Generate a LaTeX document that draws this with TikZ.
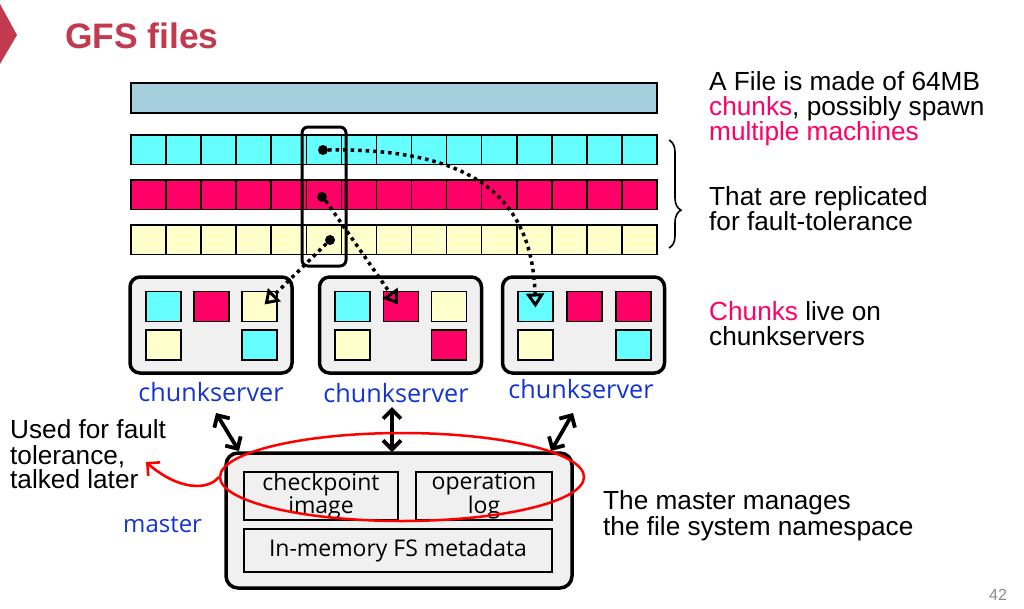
\documentclass[tikz,border=0pt]{standalone}
\usepackage{fontspec}
\setmainfont{Liberation Sans}
\newfontfamily\labf{Open Sans}
\usetikzlibrary{arrows.meta,decorations.pathreplacing,shapes.geometric}
\definecolor{cy}{HTML}{66FFFF}
\definecolor{mg}{HTML}{FF0066}
\definecolor{yl}{HTML}{FFFFCC}
\definecolor{barc}{HTML}{A5CFDC}
\definecolor{titlec}{HTML}{C23A4D}
\definecolor{csblue}{HTML}{1434D2}
\definecolor{boxg}{HTML}{F0F0F0}
\begin{document}
\begin{tikzpicture}[x=1pt,y=-1pt,
  cell/.style={draw=black,line width=1.6pt},
  dot/.style={circle,fill=black,inner sep=0pt,minimum size=10pt},
  csbox/.style={draw=black,fill=boxg,line width=3.5pt,rounded corners=10pt,minimum width=162pt,minimum height=96pt,inner sep=0pt},
  scell/.style={draw=black,line width=1.8pt,minimum width=35pt,minimum height=30pt,inner sep=0pt},
  mbox/.style={draw=black,fill=boxg,line width=3.5pt,rounded corners=12pt,minimum width=346pt,minimum height=135pt,inner sep=0pt},
  ibox/.style={draw=black,fill=boxg,line width=1.8pt,inner sep=0pt,minimum height=48pt,align=center,font=\labf\fontsize{23}{19}\selectfont},
  cslab/.style={anchor=base,inner sep=0pt,text=csblue,font=\labf\fontsize{25.2}{25}\selectfont},
  txt/.style={anchor=base west,inner sep=0pt,font=\fontsize{26.2}{26}\selectfont},
  dotarr/.style={line width=3.5pt,dash pattern=on 3.5pt off 4pt,-{Triangle[open,length=14pt,width=18pt,line width=3pt]}},
  dbl/.style={line width=3.8pt,{Straight Barb[length=9pt,width=18pt]}-{Straight Barb[length=9pt,width=18pt]}},
  redarr/.style={draw=red,line width=2.6pt,-{Straight Barb[length=9pt,width=18pt]}}
]
\useasboundingbox (0,0) rectangle (1024,608);
% title
\fill[titlec] (0,4) -- (17,35) -- (0,64) -- cycle;
\node[anchor=base west,inner sep=0pt,text=titlec,font=\bfseries\fontsize{35.4}{36}\selectfont] (title) at (65,48) {GFS files};
% file bar
\draw[cell,fill=barc] (131,83) rectangle (657,113);
% chunk rows
\foreach \c/\y in {cy/135,mg/180,yl/225}{
  \foreach \i in {0,...,14}{
    \draw[cell,fill=\c] ({131+\i*35.0667},\y) rectangle +(35.0667,29.5);
  }
}
% highlight column
\draw[line width=3pt,rounded corners=6pt] (302,127) rectangle (346,266);
\node[dot] (d1) at (323,150) {};
\node[dot] (d2) at (322,197) {};
\node[dot] (d3) at (330,240) {};
% chunkservers
\node[csbox] (cs1) at (211,325) {};
\node[csbox] (cs2) at (400.5,325) {};
\node[csbox] (cs3) at (583.5,325) {};
\node[scell,fill=cy] (c1a) at (163.5,306.5) {};
\node[scell,fill=mg] (c1b) at (211.5,306.5) {};
\node[scell,fill=yl] (c1c) at (259.5,306.5) {};
\node[scell,fill=yl] (c1d) at (163.5,345) {};
\node[scell,fill=cy] (c1e) at (259.5,345) {};
\node[scell,fill=cy] (c2a) at (352.5,306.5) {};
\node[scell,fill=mg] (c2b) at (401,306.5) {};
\node[scell,fill=yl] (c2c) at (449,306.5) {};
\node[scell,fill=yl] (c2d) at (352.5,345) {};
\node[scell,fill=mg] (c2e) at (449,345) {};
\node[scell,fill=cy] (c3a) at (535.5,306.5) {};
\node[scell,fill=mg] (c3b) at (584.5,306.5) {};
\node[scell,fill=mg] (c3c) at (633.5,306.5) {};
\node[scell,fill=yl] (c3d) at (535.5,345) {};
\node[scell,fill=cy] (c3e) at (633.5,345) {};
% dotted arrows
\draw[dotarr] (d1.east) .. controls (470,148) and (532,195) .. ([yshift=-1pt]c3a.center);
\draw[dotarr] (d2.south east) -- ([xshift=-3pt,yshift=2pt]c2b.center);
\draw[dotarr] (d3.south west) -- ([xshift=5pt,yshift=2pt]c1c.center);
% labels
\node[cslab] (l1) at (211,401) {chunkserver};
\node[cslab] (l2) at (396,402) {chunkserver};
\node[cslab] (l3) at (581,398) {chunkserver};
% master
\node[mbox] (m) at (399,520.5) {};
\node[ibox,minimum width=154pt] (ck) at (321,496) {checkpoint\\image};
\node[ibox,minimum width=136pt] (op) at (484,496) {operation\\log};
\node[ibox,minimum width=308pt,minimum height=43pt] (fs) at (398,550.5) {In-memory FS metadata};
\node[anchor=base west,inner sep=0pt,text=csblue,font=\labf\fontsize{24}{24}\selectfont] (ml) at (123,532) {master};
% double arrows
\coordinate (a1s) at (216,413); \coordinate (a1e) at (239,451);
\coordinate (a2s) at (392,407); \coordinate (a2e) at (392,452);
\coordinate (a3s) at (573,413); \coordinate (a3e) at (551,451);
\draw[dbl] (a1s) -- (a1e);
\draw[dbl] (a2s) -- (a2e);
\draw[dbl] (a3s) -- (a3e);
% red ellipse and arrow
\node[ellipse,draw=red,line width=2.5pt,minimum width=364pt,minimum height=88pt,inner sep=0pt] (ell) at (402,477) {};
\coordinate (rt) at (146,462);
\draw[redarr] (ell.west) .. controls (208,491) and (178,490) .. (rt);
% brace
\draw[decorate,decoration={brace,amplitude=12pt,aspect=0.65},line width=1.6pt] (669,140) -- (669,248);
% texts
\node[txt] (t1) at (709,90) {A File is made of 64MB};
\node[txt] (t2) at (709,115) {\textcolor{mg}{chunks}, possibly spawn};
\node[txt] (t3) at (709,140) {\textcolor{mg}{multiple machines}};
\node[txt] (t4) at (709,205) {That are replicated};
\node[txt] (t5) at (709,230) {for fault-tolerance};
\node[txt] (t6) at (709,320) {\textcolor{mg}{Chunks} live on};
\node[txt] (t7) at (709,345) {chunkservers};
\node[txt] (t8) at (603,509) {The master manages};
\node[txt] (t9) at (603,535) {the file system namespace};
\node[txt] (u1) at (10,438) {Used for fault};
\node[txt] (u2) at (10,464) {tolerance,};
\node[txt] (u3) at (10,488) {talked later};
\node[anchor=base west,inner sep=0pt,text=black!45,font=\fontsize{16}{16}\selectfont] (pg) at (989,600) {42};
\end{tikzpicture}
\end{document}
